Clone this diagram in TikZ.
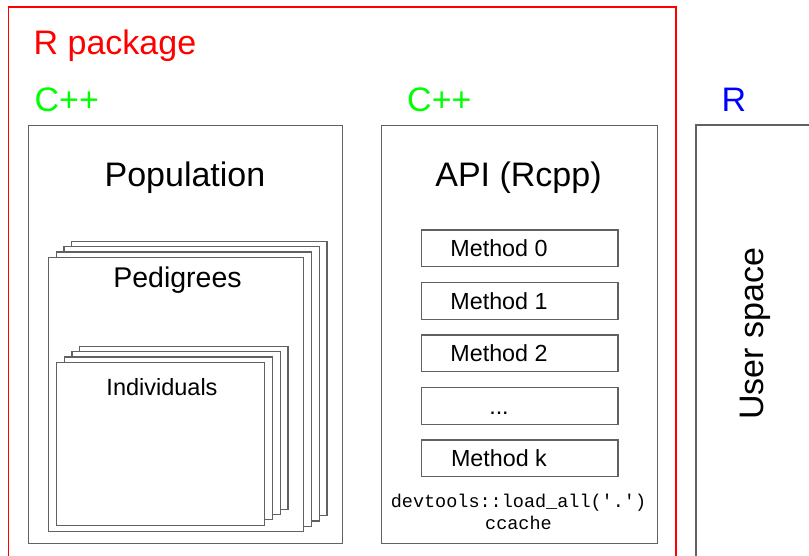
\documentclass[tikz,border=0pt]{standalone}
\usepackage{fontspec}
\setmainfont{Liberation Sans}
\setmonofont{Liberation Mono}
\newcommand\threedots{...}
\begin{document}
\begin{tikzpicture}[x=1pt,y=-1pt,
  frame/.style={draw=red, line width=1.3pt},
  panel/.style={draw=black!62, line width=1.3pt, fill=white, anchor=north west, inner sep=0pt},
  sheet/.style={draw=black!62, line width=1.2pt, fill=white, anchor=north west, inner sep=0pt},
  methodbox/.style={draw=black!62, line width=1.2pt, fill=white, anchor=north west, inner sep=0pt,
    minimum width=196.3pt, minimum height=36.7pt},
  big/.style={font=\fontsize{34}{40}\selectfont, inner sep=0pt},
  lbl/.style={inner sep=0pt, anchor=base},
  mlabel/.style={inner sep=0pt, anchor=base, font=\fontsize{23.3}{28}\selectfont}
]
\useasboundingbox (0,0) rectangle (809,555);
\clip (0,0) rectangle (809,555);

% outer package frame (runs off the bottom)
\draw[frame] (8.3,600) |- (676,7) -- (676,600);
\node[big, text=red, anchor=base west] (pkg) at (33.5,54.3) {R package};

% column headers
\node[big, text=green, anchor=base west] (cppA) at (34.5,111.5) {C++};
\node[big, text=green, anchor=base west] (cppB) at (407,111.5) {C++};
\node[big, text=blue, anchor=base west] (rlang) at (721.5,111.5) {R};

% population panel
\node[panel, minimum width=314pt, minimum height=418pt] (popbox) at (28,125) {};
\node[big, lbl] (poptxt) at (185,186) {Population};

% stack of pedigrees
\foreach \k in {3,2,1,0}{
  \node[sheet, minimum width=255.3pt, minimum height=274.3pt] (ped\k) at (47.7+7.8*\k,256.7-5.3*\k) {};
}
\node[lbl, font=\fontsize{28.5}{32}\selectfont] (pedtxt) at (177.5,287.5) {Pedigrees};

% stack of individuals
\foreach \k in {3,2,1,0}{
  \node[sheet, minimum width=208.3pt, minimum height=162.8pt] (ind\k) at (55.7+7.8*\k,361.7-5.3*\k) {};
}
\node[lbl, font=\fontsize{23.5}{28}\selectfont] (indtxt) at (162,395.5) {Individuals};

% API panel
\node[panel, minimum width=276pt, minimum height=418pt] (apibox) at (381,125) {};
\node[big, lbl] (apitxt) at (518.5,186) {API (Rcpp)};

\foreach \t/\name [count=\i from 0] in {229.3/Method 0, 281.8/Method 1, 334.3/Method 2, 386.8/\threedots, 439.3/Method k}{
  \node[methodbox] (m\i) at (421,\t) {};
  \node[mlabel] (mt\i) at (499,\t+27.2) {\name};
}

\node[lbl, font=\fontsize{18.5}{22}\ttfamily] (devt) at (518.5,507.3) {devtools::load\_all('.')};
\node[lbl, font=\fontsize{18.5}{22}\ttfamily] (ccache) at (518.5,529.3) {ccache};

% user space panel (runs off the right edge)
\draw[draw=black!62, line width=1.3pt] (696,600) |- (830,125);
\node[big, rotate=90, anchor=base] (user) at (763,334) {User space};
\end{tikzpicture}
\end{document}
